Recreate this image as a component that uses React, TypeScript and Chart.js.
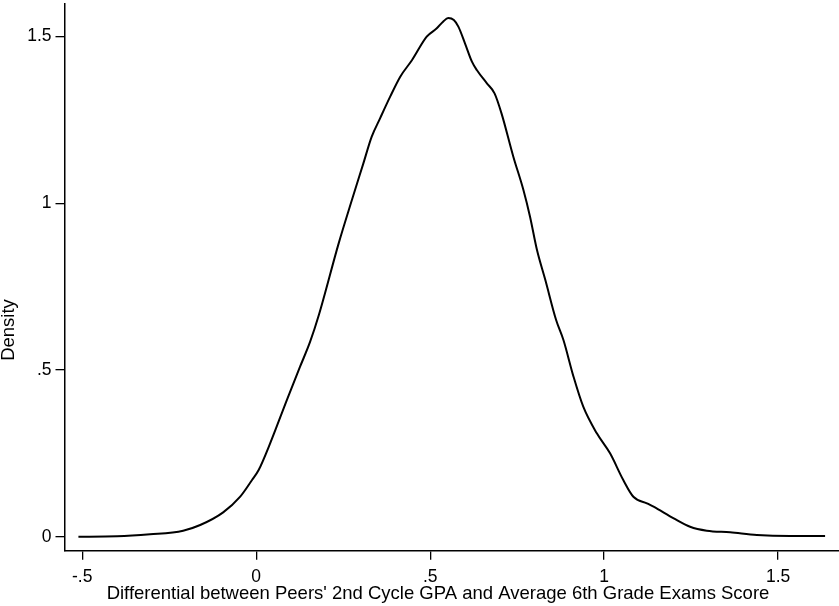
import React, { useEffect, useRef } from "react";
import { Chart, registerables } from "chart.js";

Chart.register(...registerables);

const xValues = [
  -0.511, -0.4, -0.305, -0.21, -0.161, -0.095, -0.046, -0.012, 0.007, 0.04, 0.088, 0.126, 0.155, 0.18,
  0.237, 0.275, 0.308, 0.332, 0.356, 0.385, 0.414, 0.448, 0.49, 0.519, 0.537, 0.552, 0.568, 0.581,
  0.6, 0.62, 0.634, 0.663, 0.685, 0.705, 0.739, 0.768, 0.787, 0.807, 0.831, 0.862, 0.883, 0.912,
  0.94, 0.979, 1.017, 1.055, 1.084, 1.123, 1.142, 1.2, 1.247, 1.295, 1.362, 1.439, 1.534, 1.635,
];
const densityValues = [
  0.0, 0.001, 0.007, 0.018, 0.035, 0.073, 0.12, 0.17, 0.2, 0.28, 0.41, 0.51, 0.585, 0.665,
  0.88, 1.01, 1.12, 1.2, 1.255, 1.32, 1.38, 1.43, 1.5, 1.525, 1.545, 1.556, 1.55, 1.53,
  1.48, 1.425, 1.4, 1.36, 1.33, 1.27, 1.14, 1.04, 0.96, 0.86, 0.77, 0.65, 0.59, 0.48,
  0.39, 0.31, 0.25, 0.17, 0.12, 0.1, 0.09, 0.055, 0.03, 0.018, 0.013, 0.005, 0.002, 0.002,
];
const xTickValues = [-0.5, 0, 0.5, 1, 1.5];
const yTickValues = [0, 0.5, 1, 1.5];
const xTitle = "Differential between Peers' 2nd Cycle GPA and Average 6th Grade Exams Score";
const yTitle = "Density";

const FONT = "'Liberation Sans', Arial, sans-serif";

function stataFmt(v: number): string {
  if (v === 0) return "0";
  const s = String(v);
  return s.replace(/^(-?)0\./, "$1.");
}

const titlePlugin = {
  id: "stataTitles",
  afterDraw(chart: any) {
    const ctx = chart.ctx;
    ctx.save();
    ctx.fillStyle = "#000";
    ctx.font = `18.5px ${FONT}`;
    ctx.textAlign = "center";
    ctx.textBaseline = "middle";
    ctx.fillText(xTitle, 438, 594);
    ctx.translate(9, 330);
    ctx.rotate(-Math.PI / 2);
    ctx.fillText(yTitle, 0, 0);
    ctx.restore();
  },
};

export default function App() {
  const ref = useRef<HTMLCanvasElement | null>(null);
  useEffect(() => {
    if (!ref.current) return;
    const chart = new Chart(ref.current, {
      type: "line",
      data: {
        datasets: [
          {
            data: xValues.map((x, i) => ({ x, y: densityValues[i] })),
            borderColor: "#000",
            borderWidth: 2,
            pointRadius: 0,
            fill: false,
            cubicInterpolationMode: "monotone",
          },
        ],
      },
      options: {
        responsive: false,
        animation: false,
        devicePixelRatio: 1,
        layout: { padding: { top: 4, right: 0, left: 0, bottom: 0 } },
        plugins: { legend: { display: false }, tooltip: { enabled: false } },
        scales: {
          x: {
            type: "linear",
            min: -0.551,
            max: 1.675,
            afterBuildTicks: (s: any) => {
              s.ticks = xTickValues.map((v) => ({ value: v }));
            },
            afterFit: (s: any) => {
              s.height = 55.3;
              s.paddingLeft = 0;
              s.paddingRight = 0;
            },
            ticks: {
              callback: (v: any) => stataFmt(Number(v)),
              color: "#000",
              font: { family: FONT, size: 17.5 },
              padding: 7,
              maxRotation: 0,
              autoSkip: false,
            },
            grid: {
              display: true,
              drawOnChartArea: false,
              drawTicks: true,
              tickLength: 9,
              color: "#000",
              lineWidth: 1.3,
            },
            border: { display: true, color: "#000", width: 1.5 },
            title: { display: false },
          },
          y: {
            type: "linear",
            min: -0.042,
            max: 1.598,
            afterBuildTicks: (s: any) => {
              s.ticks = yTickValues.map((v) => ({ value: v }));
            },
            afterFit: (s: any) => {
              s.width = 64.5;
              s.paddingTop = 0;
              s.paddingBottom = 0;
            },
            ticks: {
              callback: (v: any) => stataFmt(Number(v)),
              color: "#000",
              font: { family: FONT, size: 17.5 },
              padding: 4,
              autoSkip: false,
            },
            grid: {
              display: true,
              drawOnChartArea: false,
              drawTicks: true,
              tickLength: 9,
              color: "#000",
              lineWidth: 1.3,
            },
            border: { display: true, color: "#000", width: 1.5 },
            title: { display: false },
          },
        },
      },
      plugins: [titlePlugin],
    } as any);
    return () => chart.destroy();
  }, []);
  return (
    <div style={{ position: "fixed", left: 0, top: 0, width: 839, height: 606, background: "#fff" }}>
      <canvas ref={ref} width={839} height={606} style={{ display: "block" }} />
    </div>
  );
}
